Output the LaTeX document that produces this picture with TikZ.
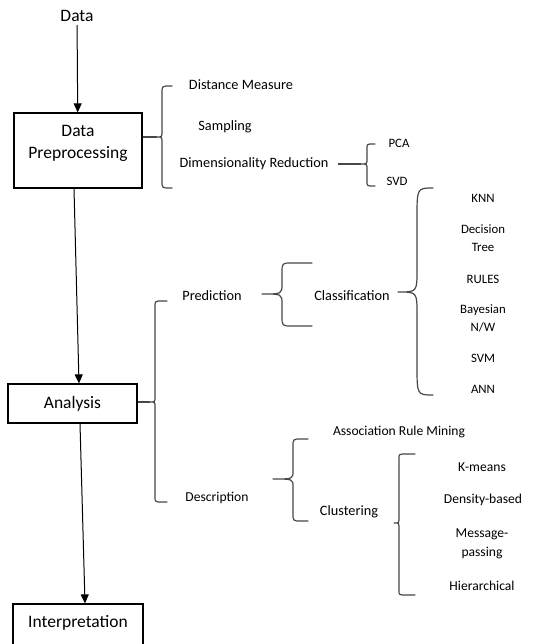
\documentclass[tikz,border=0pt]{standalone}
\usepackage{fontspec}
\setmainfont{Carlito}
\usetikzlibrary{arrows.meta,calc}

% curly brace opening to the right:
% #1 x of the spine, #2 top, #3 bottom, #4 y of the tip, #5 x of the tip,
% #6 x where the arms end, #7 arm curve width, #8 arm curve height, #9 tip curve height
\newcommand{\wordbrace}[9]{%
  \draw[bracepen] (#6,#2) -- (#1+#7,#2) .. controls (#1,#2) .. (#1,#2+#8)
    -- (#1,#4-#9) .. controls (#1,#4) .. (#5,#4)
    .. controls (#1,#4) .. (#1,#4+#9)
    -- (#1,#3-#8) .. controls (#1,#3) .. (#1+#7,#3) -- (#6,#3);}

\tikzset{
  bigtxt/.style={font=\fontsize{17.5}{22}\selectfont, inner sep=3pt},
  midtxt/.style={font=\fontsize{14.3}{17}\selectfont, inner sep=3pt},
  subtxt/.style={font=\fontsize{13.6}{19}\selectfont, inner sep=3pt, align=center},
  smalltxt/.style={font=\fontsize{12.8}{17.5}\selectfont, inner sep=3pt, align=center},
  stagebox/.style={draw=black, line width=1.2pt, inner sep=0pt,
    font=\fontsize{17.5}{22}\selectfont, align=center},
  arr/.style={draw=black, line width=1pt, -{Triangle[length=9pt,width=8pt]}},
  bracepen/.style={draw=black!72, line width=1.2pt, line join=round, line cap=round},
  stub/.style={draw=black!72, line width=1.2pt},
}

\begin{document}
\begin{tikzpicture}[x=1pt, y=-1pt]
\useasboundingbox (0,0) rectangle (549,644);

% main pipeline
\node[bigtxt] (data) at (77,16) {Data};
\node[stagebox, minimum width=128pt, minimum height=75pt, text depth=17pt]
  (dp) at (78,150.5) {Data\\Preprocessing};
\node[stagebox, minimum width=129pt, minimum height=39pt] (an) at (72.5,403.5) {Analysis};
\node[stagebox, minimum width=130pt, minimum height=44pt, text depth=10pt]
  (interp) at (78,626) {Interpretation};

\draw[arr] (data) -- (dp);
\draw[arr] ([xshift=-4pt]dp.south) -- ([xshift=6.5pt]an.north);
\draw[arr] ([xshift=7.5pt]an.south) -- ([xshift=7pt]interp.north);

% preprocessing branch
\node[midtxt] (dist) at (241,85) {Distance Measure};
\node[midtxt] (samp) at (225,127) {Sampling};
\node[midtxt] (dimr) at (254,164) {Dimensionality Reduction};
\coordinate (dptip) at (157,137);
\draw[stub] (dp.east |- dptip) -- (dptip);
\wordbrace{162}{86}{188}{137}{157}{172}{8}{7}{6}

\node[smalltxt] (pca) at (399,143) {PCA};
\node[smalltxt] (svd) at (397,181) {SVD};
\coordinate (dimtip) at (361,164);
\draw[stub, line width=1.6pt] ([xshift=6pt]dimr.east |- dimtip) -- (dimtip);
\wordbrace{367}{144}{186}{164}{361}{375}{6}{5}{5}

% analysis branch
\coordinate (antip) at (150,402);
\draw[stub] (an.east |- antip) -- (antip);
\wordbrace{155}{301}{502}{402}{150}{167}{7}{6}{5}
\node[midtxt] (pred) at (212,296) {Prediction};
\node[subtxt] (desc) at (217,498) {Description};

% prediction
\wordbrace{282}{263}{326}{294}{262}{312}{10}{10}{10}
\node[midtxt] (clas) at (352,296) {Classification};
\wordbrace{417}{188}{395}{292}{398}{433}{16}{30}{22}
\node[smalltxt] (knn) at (483,198) {KNN};
\node[smalltxt] (dtree) at (483,238) {Decision\\Tree};
\node[smalltxt] (rules) at (483,279) {RULES};
\node[smalltxt] (bayes) at (483,318.5) {Bayesian\\N/W};
\node[smalltxt] (svm) at (483,358) {SVM};
\node[smalltxt] (ann) at (483,389) {ANN};

% description
\wordbrace{293}{439}{521}{479}{273}{308}{8}{8}{8}
\node[subtxt] (arm) at (399,432) {Association Rule Mining};
\node[midtxt] (clus) at (349,512) {Clustering};
\wordbrace{399}{454}{595}{523}{394}{415}{8}{4}{3}
\node[subtxt] (kmeans) at (482,467) {K-means};
\node[subtxt] (dens) at (483,500) {Density-based};
\node[subtxt] (msg) at (482,543.5) {Message-\\passing};
\node[subtxt] (hier) at (482,586) {Hierarchical};
\end{tikzpicture}
\end{document}
